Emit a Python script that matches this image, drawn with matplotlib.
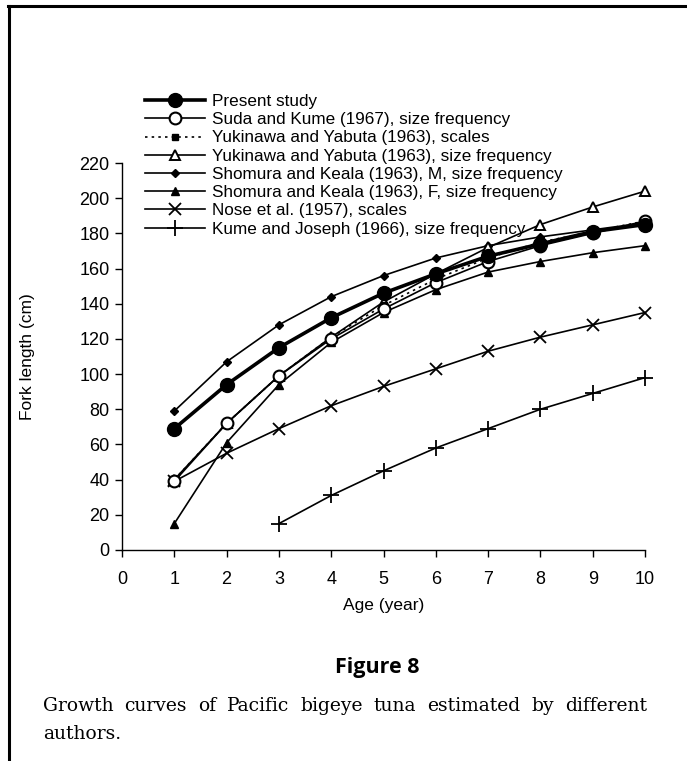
import matplotlib
matplotlib.use("Agg")
import matplotlib.pyplot as plt
from matplotlib.lines import Line2D

plt.rcParams['font.family'] = ['Liberation Sans', 'DejaVu Sans']

ages = [1, 2, 3, 4, 5, 6, 7, 8, 9, 10]
present_study = [69, 94, 115, 132, 146, 157, 167, 174, 181, 185]
suda_kume = [39, 72, 99, 120, 137, 152, 164, 173, 180, 187]
yuki_scales = [40, 72, 99, 121, 139, 154, 166, 175, 181, 187]
yuki_sizefreq = [40, 72, 99, 121, 141, 157, 172, 185, 195, 204]
shomura_m = [79, 107, 128, 144, 156, 166, 173, 178, 182, 186]
shomura_f = [15, 61, 94, 118, 135, 148, 158, 164, 169, 173]
nose = [39, 55, 69, 82, 93, 103, 113, 121, 128, 135]
kume_ages = [3, 4, 5, 6, 7, 8, 9, 10]
kume_joseph = [15, 31, 45, 58, 69, 80, 89, 98]

labels = [
    "Present study",
    "Suda and Kume (1967), size frequency",
    "Yukinawa and Yabuta (1963), scales",
    "Yukinawa and Yabuta (1963), size frequency",
    "Shomura and Keala (1963), M, size frequency",
    "Shomura and Keala (1963), F, size frequency",
    "Nose et al. (1957), scales",
    "Kume and Joseph (1966), size frequency",
]
xticks = list(range(0, 11))
yticks = list(range(0, 221, 20))

W, H = 687, 761
fig = plt.figure(figsize=(W / 100, H / 100), dpi=100)

# frame lines (top and left)
fig.add_artist(Line2D([8 / W, 1], [1 - 6 / H, 1 - 6 / H], transform=fig.transFigure, color='black', lw=2.2))
fig.add_artist(Line2D([8.5 / W, 8.5 / W], [0, 1 - 6 / H], transform=fig.transFigure, color='black', lw=2.2))

ax = fig.add_axes([122 / W, 1 - 550 / H, (645 - 122) / W, (550 - 163) / H])
k = 'black'
h = []
h += ax.plot(kume_ages, kume_joseph, color=k, lw=1.2, marker='+', ms=11, mew=1.3, label=labels[7])
h += ax.plot(ages, nose, color=k, lw=1.2, marker='x', ms=9, mew=1.3, label=labels[6])
h += ax.plot(ages, shomura_f, color=k, lw=1.2, marker='^', ms=6, mfc=k, label=labels[5])
h += ax.plot(ages, shomura_m, color=k, lw=1.2, marker='D', ms=4.5, mfc=k, label=labels[4])
h += ax.plot(ages, yuki_sizefreq, color=k, lw=1.2, marker='^', ms=7.5, mfc='white', mew=1.4, label=labels[3])
h += ax.plot(ages, yuki_scales, color=k, lw=1.2, ls=(0, (1.5, 2.5)), marker='s', ms=4, mfc=k, label=labels[2])
h += ax.plot(ages, suda_kume, color=k, lw=1.2, marker='o', ms=8.5, mfc='white', mew=1.5, label=labels[1])
h += ax.plot(ages, present_study, color=k, lw=2.6, marker='o', ms=10, mfc=k, label=labels[0])

ax.set_xlim(0, 10)
ax.set_ylim(0, 220)
ax.set_xticks(xticks)
ax.set_yticks(yticks)
ax.spines['top'].set_visible(False)
ax.spines['right'].set_visible(False)
for s in ['left', 'bottom']:
    ax.spines[s].set_linewidth(1.0)
ax.tick_params(direction='out', length=5, width=1.0, labelsize=13, pad=4)
ax.tick_params(axis='x', pad=10)
ax.set_xlabel("Age (year)", fontsize=12.5, labelpad=7)
ax.set_ylabel("Fork length (cm)", fontsize=12.5, labelpad=32)
for sp in ax.spines.values():
    sp.set_clip_on(False)
for ln in h:
    ln.set_clip_on(False)

leg = fig.legend(handles=h[::-1], loc='upper left', bbox_to_anchor=(145 / W, 1 - 94 / H),
                 frameon=False, fontsize=12.3, borderpad=0, borderaxespad=0,
                 handlelength=3.5, handletextpad=0.42, labelspacing=0.19)

fig.text(377 / W, 1 - 668 / H, "Figure 8", ha='center', va='center', fontsize=15.5,
         fontweight='bold', family=['Open Sans', 'DejaVu Sans'])

# justified caption line 1
line1 = "Growth curves of Pacific bigeye tuna estimated by different".split()
line2 = "authors."
cap_kw = dict(fontsize=13.5, family=['DejaVu Serif'], va='baseline')
left_px, right_px = 43, 647
y1 = 1 - 711 / H
y2 = 1 - 739 / H
fig.canvas.draw()
r = fig.canvas.get_renderer()
widths = []
tmp = []
for w in line1:
    t = fig.text(0, 0, w, **cap_kw)
    tmp.append(t)
    widths.append(t.get_window_extent(r).width)
for t in tmp:
    t.remove()
gap = ((right_px - left_px) - sum(widths)) / (len(line1) - 1)
x = left_px
for w, wd in zip(line1, widths):
    fig.text(x / W, y1, w, **cap_kw)
    x += wd + gap
fig.text(left_px / W, y2, line2, **cap_kw)

fig.savefig("out.png", dpi=100)
